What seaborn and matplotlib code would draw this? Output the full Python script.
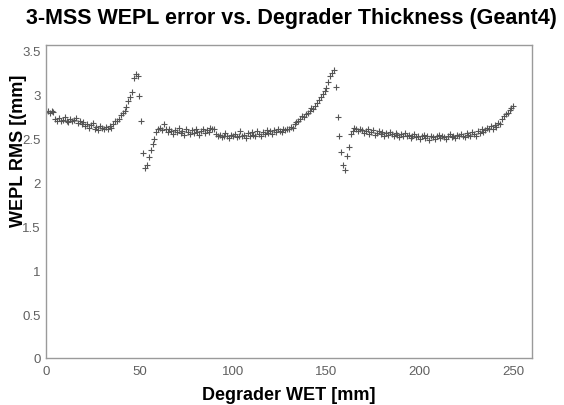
import numpy as np
import pandas as pd
import seaborn as sns
import matplotlib
matplotlib.use("Agg")
import matplotlib.pyplot as plt
from matplotlib.ticker import MultipleLocator, FuncFormatter

title = "3-MSS WEPL error vs. Degrader Thickness (Geant4)"
x_label = "Degrader WET [mm]"
y_label = "WEPL RMS [(mm]"

# WEPL RMS values at degrader WET = 0, 1, 2, ... 250 mm
rms_0_34 = [2.80, 2.81, 2.79, 2.81, 2.80,
            2.72, 2.70, 2.73, 2.69, 2.71, 2.74, 2.70, 2.68, 2.72, 2.69, 2.71, 2.73, 2.67, 2.70, 2.66,
            2.68, 2.64, 2.66, 2.62, 2.65, 2.67, 2.61, 2.63, 2.59, 2.64, 2.62, 2.60, 2.63, 2.61, 2.64]
rms_35_60 = [2.62, 2.66, 2.70, 2.69, 2.72, 2.76, 2.79, 2.81, 2.86, 2.92,
             2.97, 3.03, 3.18, 3.23, 3.21, 2.98, 2.70, 2.33, 2.16, 2.19,
             2.29, 2.37, 2.43, 2.49, 2.57, 2.60]
rms_61_89 = [2.62, 2.59, 2.66, 2.61, 2.57, 2.60, 2.58, 2.55, 2.59, 2.57, 2.62, 2.56, 2.58, 2.54, 2.60,
             2.57, 2.55, 2.59, 2.56, 2.61, 2.57, 2.54, 2.58, 2.60, 2.56, 2.59, 2.57, 2.62, 2.60]
rms_90_134 = [2.61, 2.55, 2.52, 2.54, 2.51, 2.53, 2.56, 2.52, 2.50, 2.54, 2.52, 2.55, 2.51, 2.53, 2.58,
              2.52, 2.54, 2.50, 2.56, 2.53, 2.57, 2.54, 2.52, 2.58, 2.55, 2.53, 2.57, 2.55, 2.59, 2.56,
              2.58, 2.55, 2.59, 2.57, 2.60, 2.58, 2.57, 2.60, 2.59, 2.61, 2.60, 2.63, 2.62, 2.66, 2.68]
rms_135_165 = [2.70, 2.72, 2.75, 2.74, 2.78, 2.79, 2.81, 2.84, 2.83, 2.87, 2.90, 2.94, 2.97, 3.00, 3.04,
               3.07, 3.14, 3.21, 3.24, 3.28, 3.08, 2.74, 2.53, 2.34, 2.19, 2.14, 2.30, 2.40, 2.55, 2.58,
               2.62]
rms_166_250 = [2.60, 2.58, 2.61, 2.59, 2.56, 2.58, 2.60, 2.55, 2.57, 2.59, 2.54, 2.56, 2.58, 2.55, 2.57,
               2.53, 2.56, 2.54, 2.57, 2.55, 2.52, 2.56, 2.54, 2.51, 2.55, 2.53, 2.56, 2.52, 2.54, 2.50,
               2.53, 2.55, 2.51, 2.53, 2.49,
               2.52, 2.54, 2.50, 2.52, 2.48, 2.53, 2.51, 2.49, 2.52, 2.54, 2.50, 2.53, 2.51, 2.49, 2.52,
               2.55, 2.51, 2.53, 2.50, 2.54,
               2.52, 2.55, 2.53, 2.51, 2.56, 2.54, 2.52, 2.57, 2.55, 2.53, 2.58, 2.56, 2.60, 2.57, 2.59,
               2.62, 2.60, 2.64, 2.61, 2.65, 2.63, 2.67, 2.66, 2.72, 2.75, 2.77, 2.79, 2.82, 2.84, 2.87]

rms = rms_0_34 + rms_35_60 + rms_61_89 + rms_90_134 + rms_135_165 + rms_166_250
wet = np.arange(len(rms))
df = pd.DataFrame({"wet": wet, "rms": rms})

sns.set_theme(style="white")
plt.rcParams["font.family"] = ["Liberation Sans", "DejaVu Sans"]

fig = plt.figure(figsize=(5.64, 4.06), dpi=100)
ax = fig.add_axes([46/564, 1-359/406, (532-46)/564, (359-46)/406])

sns.scatterplot(data=df, x="wet", y="rms", marker="+", s=20, color="#555555",
                linewidth=0.8, ax=ax, legend=False)

ax.set_xlim(0, 260)
ax.set_ylim(0, 3.56)

for side in ["left", "bottom", "right", "top"]:
    ax.spines[side].set_color("#9a9a9a")
    ax.spines[side].set_linewidth(1.0)

ax.xaxis.set_major_locator(MultipleLocator(50))
ax.xaxis.set_minor_locator(MultipleLocator(10))
ax.yaxis.set_major_locator(MultipleLocator(0.5))
ax.yaxis.set_minor_locator(MultipleLocator(0.1))
fmt = FuncFormatter(lambda v, p: f"{v:g}")
ax.xaxis.set_major_formatter(fmt)
ax.yaxis.set_major_formatter(fmt)
ax.tick_params(axis="both", which="major", direction="in", length=9, width=0.8,
               color="#9a9a9a", labelsize=9.5, labelcolor="#606060", pad=4)
ax.tick_params(axis="x", which="major", pad=5)
ax.tick_params(axis="both", which="minor", direction="in", length=5, width=0.8,
               color="#9a9a9a")
ax.tick_params(top=False, right=False, which="both")

ax.set_xlabel(x_label, fontsize=13, fontweight="bold", color="black")
ax.xaxis.set_label_coords(0.5, -0.09)
ax.set_ylabel(y_label, fontsize=13, fontweight="bold", color="black", loc="top")
ax.yaxis.set_label_coords(-0.04, 0.91)

fig.text(0.516, 0.955, title, fontsize=15.5, fontweight="bold", ha="center", va="center",
         color="black")

fig.savefig("out.png", dpi=100)
